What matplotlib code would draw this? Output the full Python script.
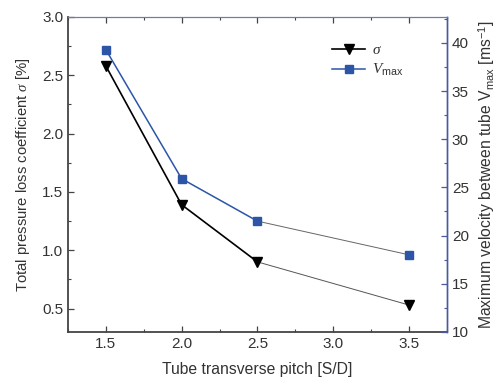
import matplotlib
matplotlib.use('Agg')
import matplotlib.pyplot as plt
from matplotlib.ticker import MultipleLocator, FormatStrFormatter

plt.rcParams['font.family'] = ['Liberation Sans', 'DejaVu Sans']
plt.rcParams['mathtext.fontset'] = 'custom'
plt.rcParams['mathtext.rm'] = 'Liberation Sans'
plt.rcParams['mathtext.it'] = 'Liberation Serif:italic'
plt.rcParams['mathtext.sf'] = 'Liberation Sans'

# data
pitch = [1.5, 2.0, 2.5, 3.5]
sigma = [2.58, 1.39, 0.90, 0.53]
vmax = [39.3, 25.9, 21.5, 18.0]

blue = '#2c55a8'
text_col = '#333333'

fig = plt.figure(figsize=(4.96, 3.85), dpi=100)
ax = fig.add_axes([0.137, 0.138, 0.764, 0.818])
ax2 = ax.twinx()

# first two segments drawn thicker than the last one, like the original
ax.plot(pitch[:3], sigma[:3], color='k', linewidth=1.2, zorder=2)
ax.plot(pitch[2:], sigma[2:], color='#555555', linewidth=0.7, zorder=2)
ax.plot(pitch, sigma, linestyle='none', marker='v', color='k', markersize=7)

ax2.plot(pitch[:3], vmax[:3], color=blue, linewidth=1.1, zorder=2)
ax2.plot(pitch[2:], vmax[2:], color='#666666', linewidth=0.7, zorder=2)
ax2.plot(pitch, vmax, linestyle='none', marker='s', color=blue, markersize=5.5)

ax.set_xlim(1.25, 3.75)
ax.set_ylim(0.3, 3.0)
ax2.set_ylim(10, 42.7)

ax.xaxis.set_major_locator(MultipleLocator(0.5))
ax.xaxis.set_minor_locator(MultipleLocator(0.25))
ax.yaxis.set_major_locator(MultipleLocator(0.5))
ax.yaxis.set_minor_locator(MultipleLocator(0.25))
ax2.yaxis.set_major_locator(MultipleLocator(5))
ax2.yaxis.set_minor_locator(MultipleLocator(2.5))

ax.tick_params(which='both', direction='in', top=True, labelsize=11,
               colors='#444444', labelcolor=text_col)
ax.tick_params(which='major', length=4, width=0.9)
ax.tick_params(which='minor', length=2.5, width=0.8)
ax2.tick_params(which='both', direction='in', labelsize=11,
                colors='#4a5a9a', labelcolor=text_col)
ax2.tick_params(which='major', length=4, width=0.9)
ax2.tick_params(which='minor', length=2.5, width=0.8)
ax.xaxis.set_major_formatter(FormatStrFormatter('%.1f'))
ax.yaxis.set_major_formatter(FormatStrFormatter('%.1f'))

for s in ['left', 'bottom']:
    ax.spines[s].set_color('#444444')
    ax.spines[s].set_linewidth(1.3)
for a in (ax, ax2):
    a.spines['top'].set_color('#6b7bb0')
    a.spines['top'].set_linewidth(0.8)
    a.spines['right'].set_color('#4a5a9a')
    a.spines['right'].set_linewidth(1.0)
ax2.spines['left'].set_visible(False)
ax2.spines['bottom'].set_visible(False)

ax.set_xlabel('Tube transverse pitch [S/D]', fontsize=11.3, color=text_col, labelpad=8)
ax.set_ylabel(r'Total pressure loss coefficient $\sigma$ [%]', fontsize=10.7,
              color=text_col, labelpad=7)
ax2.set_ylabel(r'Maximum velocity between tube V$_{\rm max}$ [ms$^{-1}$]',
               fontsize=11.3, color=text_col, labelpad=5)

h1, = ax.plot([], [], color='k', marker='v', markersize=7, linewidth=1.2)
h2, = ax.plot([], [], color=blue, marker='s', markersize=5.5, linewidth=1.1)
leg = ax.legend([h1, h2], [r'$\sigma$', r'$V_{\mathsf{max}}$'],
                loc='upper left', bbox_to_anchor=(0.66, 0.96), frameon=False,
                fontsize=11, handlelength=2.2, labelspacing=0.3,
                handletextpad=0.4)
for t in leg.get_texts():
    t.set_color(text_col)

fig.savefig('out.png', dpi=100)
